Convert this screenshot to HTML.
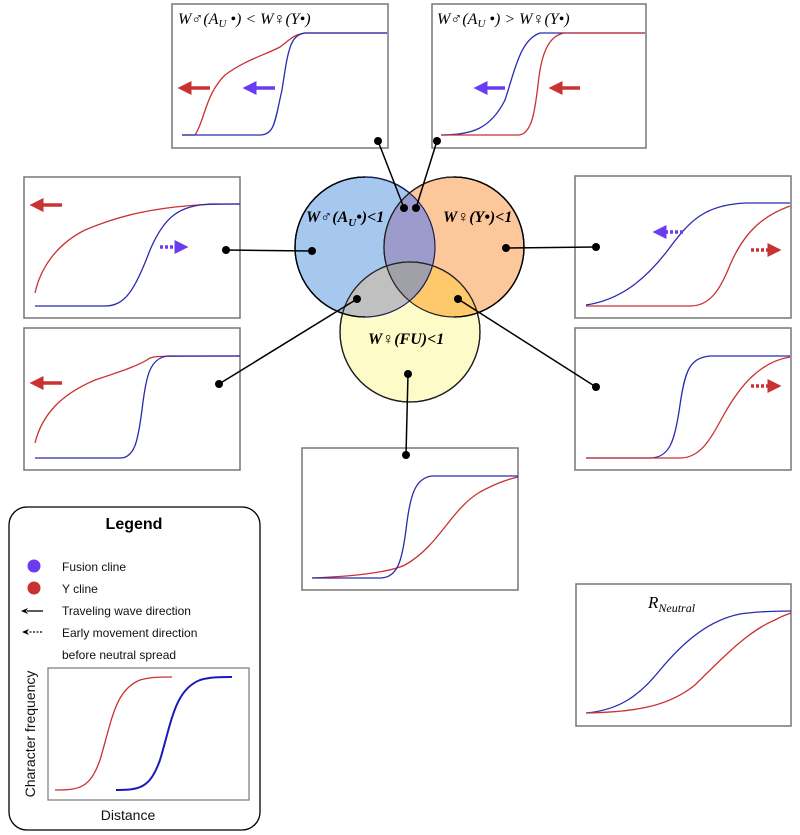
<!DOCTYPE html>
<html><head><meta charset="utf-8"><style>
html,body{margin:0;padding:0;background:#fff;}
svg{display:block;}
text{font-family:"Liberation Serif","DejaVu Serif",serif;}
text.s,.s text{font-family:"Liberation Sans","DejaVu Sans",sans-serif;}
</style></head><body>
<svg width="800" height="835" viewBox="0 0 800 835" xmlns="http://www.w3.org/2000/svg">
<defs>
<marker id="hr" markerWidth="4" markerHeight="4" refX="1" refY="2" orient="auto"><path d="M0,0 L4,2 L0,4 Z" fill="#c83232"/></marker>
<marker id="hb" markerWidth="4" markerHeight="4" refX="1" refY="2" orient="auto"><path d="M0,0 L4,2 L0,4 Z" fill="#6a3cf0"/></marker>
<marker id="hk" markerWidth="8" markerHeight="8" refX="1" refY="4" orient="auto" markerUnits="userSpaceOnUse"><path d="M0,1 L7,4 L0,7 L2,4 Z" fill="#000"/></marker>
</defs>
<g fill="none" stroke="#777" stroke-width="1.5">
<rect x="172" y="4" width="216" height="144"/>
<rect x="432" y="4" width="214" height="144"/>
<rect x="24" y="177" width="216" height="141"/>
<rect x="24" y="328" width="216" height="142"/>
<rect x="575" y="176" width="216" height="142"/>
<rect x="575" y="328" width="216" height="142"/>
<rect x="302" y="448" width="216" height="142"/>
<rect x="576" y="584" width="215" height="142"/>
</g>
<circle cx="365" cy="247" r="70" fill="#a6c8ee" stroke="#000" stroke-width="1.3"/>
<circle cx="454" cy="247" r="70" fill="#fdc79c" stroke="#000" stroke-width="1.3"/>
<path d="M409.5,193.5 A70,70 0 0 1 409.5,300.5 A70,70 0 0 1 409.5,193.5Z" fill="#9b9bcc"/>
<circle cx="410" cy="332" r="70" fill="#fdfcc8" stroke="#000" stroke-width="1.3"/>
<g>
<clipPath id="cy"><circle cx="410" cy="332" r="70"/></clipPath>
<g clip-path="url(#cy)">
<circle cx="365" cy="247" r="70" fill="#c0c0c0"/>
<circle cx="454" cy="247" r="70" fill="#fec96a"/>
<clipPath id="cb"><circle cx="365" cy="247" r="70"/></clipPath>
<circle cx="454" cy="247" r="70" fill="#a0a0a8" clip-path="url(#cb)"/>
</g>
</g>
<circle cx="365" cy="247" r="70" fill="none" stroke="#1a1a60" stroke-width="1.2"/>
<circle cx="454" cy="247" r="70" fill="none" stroke="#222" stroke-width="1.2"/>
<circle cx="410" cy="332" r="70" fill="none" stroke="#222" stroke-width="1.2"/>
<path d="M365,177 A70,70 0 0 0 365,317" fill="none" stroke="#000" stroke-width="1.3"/>
<path d="M454,177 A70,70 0 0 1 454,317" fill="none" stroke="#000" stroke-width="1.3"/>
<text x="306" y="222" font-size="16" font-weight="bold" font-style="italic">W♂(A<tspan font-size="11" dy="4">U</tspan><tspan dy="-4">•)&lt;1</tspan></text>
<text x="443" y="222" font-size="16" font-weight="bold" font-style="italic">W♀(Y•)&lt;1</text>
<text x="368" y="344" font-size="16" font-weight="bold" font-style="italic">W♀(FU)&lt;1</text>
<g stroke="#000" stroke-width="1.5">
<line x1="378" y1="141" x2="404" y2="208"/>
<line x1="437" y1="141" x2="416" y2="208"/>
<line x1="226" y1="250" x2="312" y2="251"/>
<line x1="506" y1="248" x2="596" y2="247"/>
<line x1="357" y1="299" x2="219" y2="384"/>
<line x1="458" y1="299" x2="596" y2="387"/>
<line x1="408" y1="374" x2="406" y2="455"/>
</g>
<g fill="#000">
<circle cx="378" cy="141" r="4"/><circle cx="437" cy="141" r="4"/>
<circle cx="404" cy="208" r="4"/><circle cx="416" cy="208" r="4"/>
<circle cx="226" cy="250" r="4"/><circle cx="312" cy="251" r="4"/>
<circle cx="506" cy="248" r="4"/><circle cx="596" cy="247" r="4"/>
<circle cx="357" cy="299" r="4"/><circle cx="219" cy="384" r="4"/>
<circle cx="458" cy="299" r="4"/><circle cx="596" cy="387" r="4"/>
<circle cx="408" cy="374" r="4"/><circle cx="406" cy="455" r="4"/>
</g>
<text x="178" y="24" font-size="16" font-style="italic">W♂(A<tspan font-size="11" dy="3">U</tspan><tspan dy="-3"> •) &lt; W♀(Y•)</tspan></text>
<text x="437" y="24" font-size="16" font-style="italic">W♂(A<tspan font-size="11" dy="3">U</tspan><tspan dy="-3"> •) &gt; W♀(Y•)</tspan></text>
<text x="648" y="608" font-size="17" font-style="italic">R<tspan font-size="12" dy="4">Neutral</tspan></text>
<g fill="none" stroke-width="1.3">
<path d="M182,135 L195,135 C205,120 205,95 225,75 C245,60 265,55 280,47 C290,40 292,35 305,33 L387,33" stroke="#c83232"/>
<path d="M182,135 L260,135 C275,135 275,120 282,90 C288,50 290,35 305,33 L387,33" stroke="#2a2ab0"/>
<path d="M441,135 C470,135 490,130 505,100 C515,70 520,40 540,33 L645,33" stroke="#2a2ab0"/>
<path d="M441,135 L518,135 C532,135 535,110 538,85 C541,55 548,35 565,33 L645,33" stroke="#c83232"/>
<path d="M35,293 C40,270 55,245 85,230 C120,215 150,210 175,207 C195,205 205,204 240,204" stroke="#c83232"/>
<path d="M35,306 L105,306 C125,306 135,290 150,250 C165,215 180,206 210,204 L240,204" stroke="#2a2ab0"/>
<path d="M35,443 C42,415 60,395 95,380 C125,370 140,365 150,358 C155,356 160,356 240,356" stroke="#c83232"/>
<path d="M35,458 L120,458 C135,458 138,440 142,410 C146,375 150,358 168,356 L240,356" stroke="#2a2ab0"/>
<path d="M586,305 C620,300 645,280 668,250 C690,220 705,205 745,203 L790,203" stroke="#2a2ab0"/>
<path d="M586,306 L690,306 C710,306 720,290 730,265 C745,230 765,215 790,206" stroke="#c83232"/>
<path d="M586,458 L650,458 C670,458 675,440 680,405 C685,370 690,358 710,356 L790,356" stroke="#2a2ab0"/>
<path d="M586,458 L680,458 C700,458 710,440 722,418 C740,385 760,362 790,357" stroke="#c83232"/>
<path d="M312,578 C360,576 390,572 405,565 C440,545 450,510 480,492 C495,484 505,480 518,477" stroke="#c83232"/>
<path d="M312,578 L380,578 C398,578 402,560 406,530 C410,495 415,478 432,476 L518,476" stroke="#2a2ab0"/>
<path d="M586,713 C620,710 640,695 660,670 C685,640 710,620 740,614 C760,611 780,611 791,611" stroke="#2a2ab0"/>
<path d="M586,713 C640,712 670,705 695,685 C725,655 750,630 775,620 C782,616 788,614 791,613" stroke="#c83232"/>
</g>
<g stroke-width="3.5" fill="none">
<line x1="210" y1="88" x2="188" y2="88" stroke="#c83232" marker-end="url(#hr)"/>
<line x1="275" y1="88" x2="253" y2="88" stroke="#6a3cf0" marker-end="url(#hb)"/>
<line x1="505" y1="88" x2="484" y2="88" stroke="#6a3cf0" marker-end="url(#hb)"/>
<line x1="580" y1="88" x2="559" y2="88" stroke="#c83232" marker-end="url(#hr)"/>
<line x1="62" y1="205" x2="40" y2="205" stroke="#c83232" marker-end="url(#hr)"/>
<line x1="62" y1="383" x2="40" y2="383" stroke="#c83232" marker-end="url(#hr)"/>
<line x1="160" y1="247" x2="178" y2="247" stroke="#6a3cf0" stroke-dasharray="3,2" marker-end="url(#hb)"/>
<line x1="683" y1="232" x2="663" y2="232" stroke="#6a3cf0" stroke-dasharray="3,2" marker-end="url(#hb)"/>
<line x1="751" y1="250" x2="771" y2="250" stroke="#c83232" stroke-dasharray="3,2" marker-end="url(#hr)"/>
<line x1="751" y1="386" x2="771" y2="386" stroke="#c83232" stroke-dasharray="3,2" marker-end="url(#hr)"/>
</g>
<rect x="9" y="507" width="251" height="323" rx="18" fill="none" stroke="#000" stroke-width="1.3"/>
<text class="s" x="134" y="529" font-size="16" font-weight="bold" text-anchor="middle">Legend</text>
<circle cx="34" cy="566" r="6.5" fill="#6a3cf0"/>
<circle cx="34" cy="588" r="6.5" fill="#c83232"/>
<line x1="43" y1="611" x2="27" y2="611" stroke="#000" stroke-width="1.3" marker-end="url(#hk)"/>
<line x1="42" y1="632" x2="28" y2="632" stroke="#000" stroke-width="1.3" stroke-dasharray="2,1.5" marker-end="url(#hk)"/>
<g fill="#111">
<text class="s" x="62" y="571" font-size="12">Fusion cline</text>
<text class="s" x="62" y="593" font-size="12">Y cline</text>
<text class="s" x="62" y="615" font-size="12">Traveling wave direction</text>
<text class="s" x="62" y="637" font-size="12">Early movement direction</text>
<text class="s" x="62" y="659" font-size="12">before neutral spread</text>
<text class="s" x="128" y="820" font-size="14" text-anchor="middle">Distance</text>
<text class="s" transform="translate(35,734) rotate(-90)" font-size="14" text-anchor="middle">Character frequency</text>
</g>
<rect x="48" y="668" width="201" height="132" fill="none" stroke="#777" stroke-width="1.2"/>
<path d="M55,790 C80,790 90,788 100,760 C112,720 115,690 140,680 C150,677 160,677 172,677" fill="none" stroke="#c83232" stroke-width="1.3"/>
<path d="M116,790 C140,790 150,788 160,760 C172,720 175,690 200,680 C210,677 220,677 232,677" fill="none" stroke="#1a1ab8" stroke-width="2"/>
</svg>
</body></html>
